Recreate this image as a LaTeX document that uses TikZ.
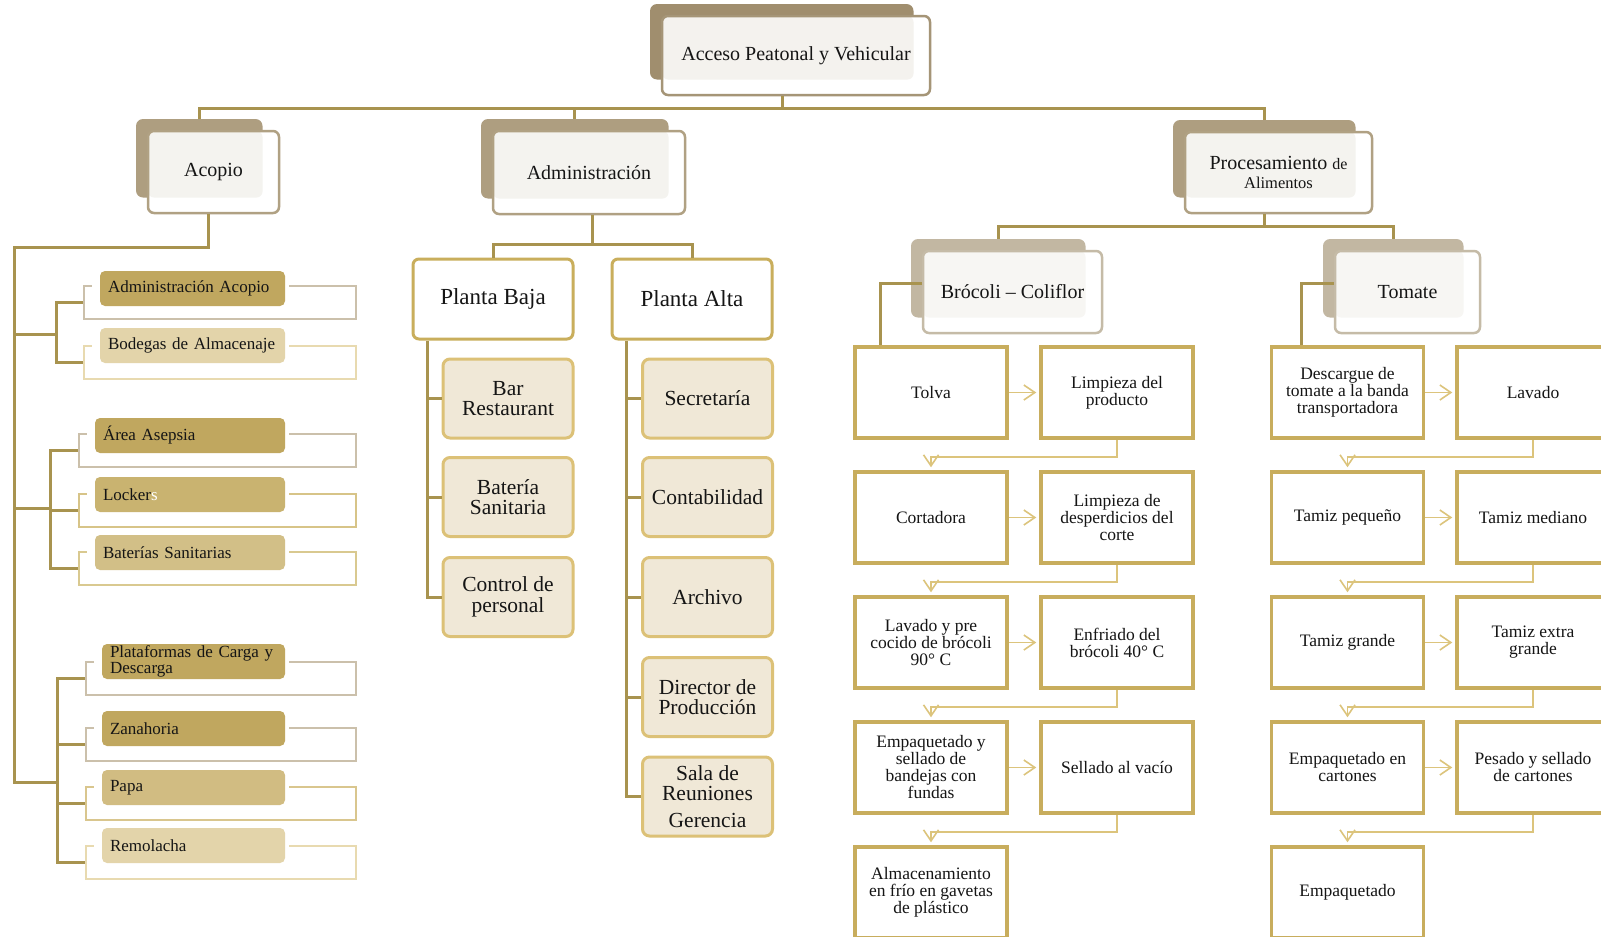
\documentclass[tikz,border=0pt]{standalone}
\usepackage{fontspec}
\setmainfont{Liberation Serif}
\usetikzlibrary{arrows.meta}
\definecolor{tdark}{HTML}{A08E6E}\definecolor{tline}{HTML}{A59577}\definecolor{tlight}{HTML}{F4F2EE}
\definecolor{mdark}{HTML}{AE9E80}\definecolor{mline}{HTML}{B0A183}\definecolor{mlight}{HTML}{F4F3EF}
\definecolor{sdark}{HTML}{C2B7A2}\definecolor{sline}{HTML}{C5BBA7}\definecolor{slight}{HTML}{F7F6F3}
\definecolor{cConn}{HTML}{A8934F}
\definecolor{cPl}{HTML}{C9AE5C}
\definecolor{cCh}{HTML}{DCC177}\definecolor{cChFill}{HTML}{F0E8D7}
\definecolor{cPbox}{HTML}{C8AD5D}
\definecolor{cArr}{HTML}{DCC47C}
\definecolor{cTxt}{HTML}{151515}
\definecolor{bfa}{HTML}{C0A75F}\definecolor{bfb}{HTML}{E3D4AA}\definecolor{bfc}{HTML}{C9B370}
\definecolor{bfd}{HTML}{D2BF87}\definecolor{bfe}{HTML}{D1BC82}
\definecolor{boa}{HTML}{CBC0AB}\definecolor{bob}{HTML}{E8DAB0}\definecolor{boc}{HTML}{D7C488}
\definecolor{bod}{HTML}{D9C990}\definecolor{boe}{HTML}{D9C68E}
\tikzset{
  conn/.style={draw=cConn, line width=3pt},
  parr/.style={draw=cArr, line width=1.6pt, -{Straight Barb[length=11pt,width=15pt]}, shorten >=3pt},
  hdrbox/.style={rounded corners=6pt, line width=2.5pt, fill=white, inner sep=0pt, align=center,
    text=cTxt, font=\fontsize{20}{19}\selectfont},
  plbox/.style={rounded corners=6pt, draw=cPl, line width=3pt, fill=white, minimum width=160pt,
    minimum height=80pt, inner sep=0pt, text=cTxt, font=\fontsize{23}{22}\selectfont},
  cbox/.style={rounded corners=7pt, draw=cCh, line width=3pt, fill=cChFill, minimum width=130pt,
    minimum height=79pt, inner sep=0pt, align=center, text=cTxt, font=\fontsize{21.5}{20.5}\selectfont},
  pbox/.style={draw=cPbox, line width=3.5pt, fill=white, minimum width=152pt, minimum height=91pt,
    inner sep=0pt, align=center, text=cTxt, font=\fontsize{17.5}{17}\selectfont},
  brk/.style={line width=2.5pt, inner sep=0pt},
  barfill/.style={rounded corners=5pt, minimum height=35pt, inner xsep=8pt, inner ysep=0pt,
    align=left, text=cTxt, font=\fontsize{17}{16}\selectfont},
}
\newcommand\mkhdr[7]{%
  \fill[#6dark, rounded corners=7pt] ({#2-12},{#3-12}) rectangle ({#4-16.5},{#5-15.5});
  \node[hdrbox, draw=#6line, minimum width={#4-#2}, minimum height={#5-#3},
     path picture={\fill[#6light] (path picture bounding box.north west) rectangle
       ([xshift=-16.5pt,yshift=15.5pt]path picture bounding box.south east);}]
     (#1) at ({(#2+#4)/2},{(#3+#5)/2}) {#7};
  \coordinate (#1-top) at ({(#2-12+#4-16.5)/2},{#3-12});
}
\newcommand\mkbar[8]{%
  \node[brk, draw=#7, minimum width={356-#2}, minimum height=33pt] (#1) at ({(356+#2)/2},{#3+16.5}) {};
  \fill[white] ({#4-8},{#5}) rectangle (289,{#5+35});
  \node[barfill, fill=#6, minimum width={285-#4}, text width={285-#4-16}] (#1f) at ({(285+#4)/2},{#5+17.5}) {#8};
}
\begin{document}
\begin{tikzpicture}[x=1pt,y=-1pt]
\useasboundingbox (0,0) rectangle (1601,937);
\fill[white] (0,0) rectangle (1601,937);
\clip (0,0) rectangle (1601,937);

% headers
\mkhdr{top}{662}{16}{930}{95}{t}{Acceso Peatonal y Vehicular}
\mkhdr{acopio}{148}{131}{279}{213}{m}{Acopio}
\mkhdr{admin}{493}{131}{685}{214}{m}{Administración}
\mkhdr{proc}{1185}{132}{1372}{213}{m}{Procesamiento {\fontsize{16}{19}\selectfont de}\\{\fontsize{16.5}{19}\selectfont Alimentos}}
\mkhdr{broc}{923}{251}{1102}{333}{s}{Brócoli – Coliflor}
\mkhdr{tom}{1335}{251}{1480}{333}{s}{Tomate}

% top connectors
\draw[conn] ([xshift=-14pt]top.south) -- ++(0,12) coordinate (tj);
\draw[conn] (acopio-top) |- (tj) -| (proc-top);
\draw[conn] (admin-top) -- (admin-top |- tj);

% Acopio branch
\coordinate (tk1) at (14,247);
\coordinate (tk2) at (14,782);
\coordinate (g1) at (56,334);
\coordinate (g2) at (50,508);
\coordinate (g3) at (57,782);
\mkbar{aa}{84}{286}{100}{271}{bfa}{boa}{Administración Acopio}
\mkbar{ba}{84}{346}{100}{328}{bfb}{bob}{Bodegas de Almacenaje}
\mkbar{ar}{79}{434}{95}{418}{bfa}{boa}{Área Asepsia}
\mkbar{lk}{79}{494}{95}{477}{bfc}{boc}{Locker\textcolor{white}{s}}
\mkbar{bs}{79}{552}{95}{535}{bfd}{bod}{Baterías Sanitarias}
\mkbar{pl}{86}{662}{102}{644}{bfa}{boa}{Plataformas de Carga y\\Descarga}
\mkbar{za}{86}{728}{102}{711}{bfa}{boa}{Zanahoria}
\mkbar{pp}{86}{787}{102}{770}{bfe}{boe}{Papa}
\mkbar{re}{86}{846}{102}{828}{bfb}{bob}{Remolacha}
\draw[conn] ([xshift=-5.5pt]acopio.south) |- (tk1) -- (tk2) -- (g3);
\draw[conn] (tk1 |- g1) -- (g1);
\draw[conn] (tk1 |- g2) -- (g2);
\draw[conn] (aa.west) -| (g1) |- (ba.west);
\draw[conn] (ar.west) -| (g2) |- (bs.west);
\draw[conn] (g2 |- lk.west) -- (lk.west);
\draw[conn] (pl.west) -| (g3) |- (re.west);
\draw[conn] (g3 |- za.west) -- (za.west);
\draw[conn] (g3 |- pp.west) -- (pp.west);

% Administracion branch
\node[plbox] (pb) at (493,299) {Planta Baja};
\node[plbox] (pa) at (692,299) {Planta Alta};
\draw[conn] ([xshift=3pt]admin.south) -- ++(0,29) coordinate (aj);
\draw[conn] (pb.north) |- (aj) -| (pa.north);
\node[cbox] (c1) at (508,398.5) {Bar\\Restaurant};
\node[cbox] (c2) at (508,497) {Batería\\Sanitaria};
\node[cbox] (c3) at (508,597) {Control de\\personal};
\node[cbox] (d1) at (707.5,398.5) {Secretaría};
\node[cbox] (d2) at (707.5,497) {Contabilidad};
\node[cbox] (d3) at (707.5,597) {Archivo};
\node[cbox] (d4) at (707.5,697) {Director de\\Producción};
\node[cbox] (d5) at (707.5,796.5) {Sala de\\Reuniones\\[6pt]Gerencia};
\coordinate (pbl) at ([xshift=16pt]pb.south west);
\coordinate (pal) at ([xshift=16pt]pa.south west);
\draw[conn] (pbl) |- (c3.west);
\draw[conn] (pbl |- c1.west) -- (c1.west);
\draw[conn] (pbl |- c2.west) -- (c2.west);
\draw[conn] (pal) |- (d5.west);
\draw[conn] (pal |- d1.west) -- (d1.west);
\draw[conn] (pal |- d2.west) -- (d2.west);
\draw[conn] (pal |- d3.west) -- (d3.west);
\draw[conn] (pal |- d4.west) -- (d4.west);

% Procesamiento branch
\draw[conn] ([xshift=-14.5pt]proc.south) -- ++(0,12) coordinate (pj);
\draw[conn] (broc-top) |- (pj) -| (tom-top);

% Brocoli process
\node[pbox] (b11) at (931,392.5) {Tolva};
\node[pbox] (b12) at (1117,392.5) {Limpieza del\\producto};
\node[pbox] (b21) at (931,517.5) {Cortadora};
\node[pbox] (b22) at (1117,517.5) {Limpieza de\\desperdicios del\\corte};
\node[pbox] (b31) at (931,642.5) {Lavado y pre\\cocido de brócoli\\90° C};
\node[pbox] (b32) at (1117,642.5) {Enfriado del\\brócoli 40° C};
\node[pbox] (b41) at (931,767.5) {Empaquetado y\\sellado de\\bandejas con\\fundas};
\node[pbox] (b42) at (1117,767.5) {Sellado al vacío};
\node[pbox] (b51) at (931,892.5) {Almacenamiento\\en frío en gavetas\\de plástico};
\draw[conn] ([yshift=9pt]broc.west) -| ([xshift=27pt]b11.north west);
\draw[parr] (b11.east) -- (b12.west);
\draw[parr] (b21.east) -- (b22.west);
\draw[parr] (b31.east) -- (b32.west);
\draw[parr] (b41.east) -- (b42.west);
\draw[parr] (b12.south) -- ++(0,17) -| (b21.north);
\draw[parr] (b22.south) -- ++(0,17) -| (b31.north);
\draw[parr] (b32.south) -- ++(0,17) -| (b41.north);
\draw[parr] (b42.south) -- ++(0,17) -| (b51.north);

% Tomate process
\node[pbox] (t11) at (1347.5,392.5) {Descargue de\\tomate a la banda\\transportadora};
\node[pbox] (t12) at (1533,392.5) {Lavado};
\node[pbox] (t21) at (1347.5,517.5) {Tamiz pequeño};
\node[pbox] (t22) at (1533,517.5) {Tamiz mediano};
\node[pbox] (t31) at (1347.5,642.5) {Tamiz grande};
\node[pbox] (t32) at (1533,642.5) {Tamiz extra\\grande};
\node[pbox] (t41) at (1347.5,767.5) {Empaquetado en\\cartones};
\node[pbox] (t42) at (1533,767.5) {Pesado y sellado\\de cartones};
\node[pbox] (t51) at (1347.5,892.5) {Empaquetado};
\draw[conn] ([yshift=9pt]tom.west) -| ([xshift=32pt]t11.north west);
\draw[parr] (t11.east) -- (t12.west);
\draw[parr] (t21.east) -- (t22.west);
\draw[parr] (t31.east) -- (t32.west);
\draw[parr] (t41.east) -- (t42.west);
\draw[parr] (t12.south) -- ++(0,17) -| (t21.north);
\draw[parr] (t22.south) -- ++(0,17) -| (t31.north);
\draw[parr] (t32.south) -- ++(0,17) -| (t41.north);
\draw[parr] (t42.south) -- ++(0,17) -| (t51.north);
\end{tikzpicture}
\end{document}
